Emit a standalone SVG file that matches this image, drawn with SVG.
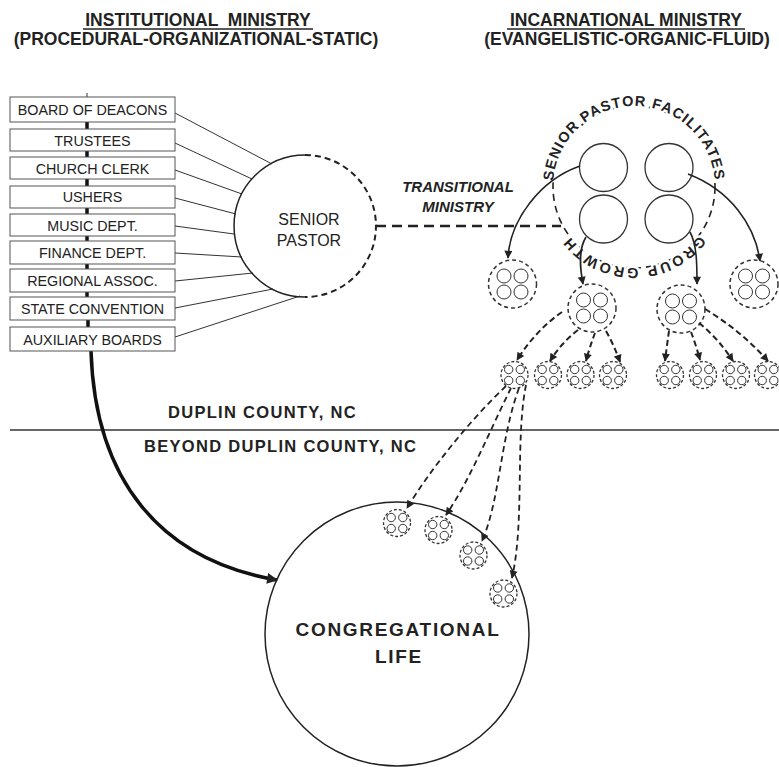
<svg xmlns="http://www.w3.org/2000/svg" width="779" height="767" viewBox="0 0 779 767">
<style>
.t{font-family:"Liberation Sans",Arial,sans-serif;fill:#222}
.hdr{font-size:17.5px;font-weight:bold;text-anchor:middle}
.box rect{fill:#fff;stroke:#555;stroke-width:1}
.box text{font-size:14.3px;text-anchor:middle}
.spoke{stroke:#333;stroke-width:1;fill:none}
.solid{stroke:#222;stroke-width:1.5;fill:none}
.ring{stroke:#222;stroke-width:1.6;fill:none;stroke-dasharray:7 5}
.trans{stroke:#222;stroke-width:2.5;fill:none;stroke-dasharray:10 6}
.darr{stroke:#222;stroke-width:2;fill:none;stroke-dasharray:6 3.5}
.darr2{stroke:#222;stroke-width:1.8;fill:none;stroke-dasharray:6 4}
.sarr{stroke:#222;stroke-width:1.6;fill:none}
.inner{fill:#fff;stroke:#333;stroke-width:1.3}
.mring{fill:#fff;stroke:#333;stroke-width:1.5;stroke-dasharray:4 3}
.sring{fill:#fff;stroke:#333;stroke-width:1.3;stroke-dasharray:3 2}
.sin{fill:none;stroke:#333;stroke-width:1}
.halo{paint-order:stroke;stroke:#fff;stroke-width:5;stroke-linejoin:round}
</style>
<defs>
<marker id="ah" viewBox="0 0 10 10" refX="9" refY="5" markerWidth="10" markerHeight="8" markerUnits="userSpaceOnUse" orient="auto"><path d="M0,0 L10,5 L0,10 z" fill="#222"/></marker>
<marker id="ahL" viewBox="0 0 10 10" refX="9" refY="5" markerWidth="18" markerHeight="11" markerUnits="userSpaceOnUse" orient="auto"><path d="M0,0 L10,5 L0,10 z" fill="#222"/></marker>
<g id="cm"><circle r="24" class="mring"/><circle cx="-8.5" cy="-8" r="7" class="sin"/><circle cx="8.5" cy="-8" r="7" class="sin"/><circle cx="-8.5" cy="8" r="7" class="sin"/><circle cx="8.5" cy="8" r="7" class="sin"/></g>
<g id="cs"><circle r="13.5" class="sring"/><circle cx="-5.8" cy="-5.5" r="4.2" class="sin"/><circle cx="5.8" cy="-5.5" r="4.2" class="sin"/><circle cx="-5.8" cy="5.5" r="4.2" class="sin"/><circle cx="5.8" cy="5.5" r="4.2" class="sin"/></g>
<path id="ringPath" d="M 553 187 A 81 81 0 1 1 715 187 A 81 81 0 1 1 553 187"/>
</defs>
<rect width="779" height="767" fill="#fff"/>

<g id="headers">
<text class="t hdr" x="198" y="26" xml:space="preserve">INSTITUTIONAL  MINISTRY</text>
<line x1="83" y1="29" x2="313" y2="29" stroke="#222" stroke-width="1.5"/>
<text class="t hdr" x="196" y="45">(PROCEDURAL-ORGANIZATIONAL-STATIC)</text>
<text class="t hdr" x="626" y="26">INCARNATIONAL MINISTRY</text>
<line x1="507" y1="29" x2="745" y2="29" stroke="#222" stroke-width="1.5"/>
<text class="t hdr" x="627" y="45">(EVANGELISTIC-ORGANIC-FLUID)</text>
</g>

<g id="regions">
<line x1="10" y1="430" x2="779" y2="430" stroke="#333" stroke-width="1.5"/>
<text class="t" x="168" y="418" font-size="16.5" font-weight="bold" letter-spacing="1.3">DUPLIN COUNTY, NC</text>
<text class="t" x="144" y="452" font-size="16.5" font-weight="bold" letter-spacing="1.3">BEYOND DUPLIN COUNTY, NC</text>
</g>

<g id="connectors">
<g id="spine">
<line x1="87" y1="93" x2="87" y2="97" stroke="#333" stroke-width="1"/>
<line x1="87" y1="122" x2="87" y2="129" stroke="#111" stroke-width="3.5"/>
<line x1="87" y1="151" x2="87" y2="157" stroke="#111" stroke-width="3.5"/>
<line x1="87" y1="179" x2="87" y2="186" stroke="#111" stroke-width="3.5"/>
<line x1="87" y1="208" x2="87" y2="214" stroke="#111" stroke-width="3.5"/>
<line x1="87" y1="236" x2="87" y2="241" stroke="#111" stroke-width="3.5"/>
<line x1="87" y1="264" x2="87" y2="269" stroke="#111" stroke-width="3.5"/>
<line x1="87" y1="292" x2="87" y2="297" stroke="#111" stroke-width="3.5"/>
<line x1="88" y1="320" x2="88" y2="327" stroke="#111" stroke-width="3.5"/>
</g>
<path d="M 91 351 C 95 480, 160 560, 277 580" stroke="#111" stroke-width="3.5" fill="none" marker-end="url(#ahL)"/>
<g id="spokes">
<line class="spoke" x1="175" y1="113" x2="272" y2="164"/>
<line class="spoke" x1="175" y1="143" x2="252" y2="179"/>
<line class="spoke" x1="175" y1="170" x2="242" y2="194"/>
<line class="spoke" x1="175" y1="198" x2="236" y2="214"/>
<line class="spoke" x1="175" y1="226" x2="234" y2="234"/>
<line class="spoke" x1="175" y1="253" x2="242" y2="257"/>
<line class="spoke" x1="175" y1="281" x2="253" y2="273"/>
<line class="spoke" x1="175" y1="308" x2="273" y2="289"/>
<line class="spoke" x1="175" y1="337" x2="300" y2="296"/>
</g>
<line class="trans" x1="376" y1="226" x2="561" y2="226"/>
</g>

<g id="boxes">
<g class="box" id="board-of-deacons"><rect x="10" y="97" width="165" height="25"/><text class="t" x="92.5" y="115">BOARD OF DEACONS</text></g>
<g class="box" id="trustees"><rect x="10" y="129" width="165" height="22"/><text class="t" x="92.5" y="145.5">TRUSTEES</text></g>
<g class="box" id="church-clerk"><rect x="10" y="157" width="165" height="22"/><text class="t" x="92.5" y="173.5">CHURCH CLERK</text></g>
<g class="box" id="ushers"><rect x="10" y="186" width="165" height="22"/><text class="t" x="92.5" y="202">USHERS</text></g>
<g class="box" id="music-dept"><rect x="10" y="214" width="165" height="22"/><text class="t" x="92.5" y="230.5">MUSIC DEPT.</text></g>
<g class="box" id="finance-dept"><rect x="10" y="241" width="165" height="23"/><text class="t" x="92.5" y="258">FINANCE DEPT.</text></g>
<g class="box" id="regional-assoc"><rect x="10" y="269" width="165" height="23"/><text class="t" x="92.5" y="286">REGIONAL ASSOC.</text></g>
<g class="box" id="state-convention"><rect x="10" y="297" width="165" height="23"/><text class="t" x="92.5" y="314">STATE CONVENTION</text></g>
<g class="box" id="auxiliary-boards"><rect x="10" y="327" width="165" height="24"/><text class="t" x="92.5" y="344.5">AUXILIARY BOARDS</text></g>
</g>

<g id="senior-pastor">
<path class="solid" d="M 305 155 A 71 71 0 0 0 305 297"/>
<path d="M 305 155 A 71 71 0 0 1 305 297" stroke="#222" stroke-width="2" fill="none" stroke-dasharray="6 4"/>
<text class="t" x="309" y="225" font-size="16" text-anchor="middle">SENIOR</text>
<text class="t" x="309" y="246" font-size="16" text-anchor="middle">PASTOR</text>
</g>

<g id="transitional-ministry-label">
<text class="t" x="458" y="192" font-size="15" font-weight="bold" font-style="italic" text-anchor="middle">TRANSITIONAL</text>
<text class="t" x="458" y="212" font-size="15" font-weight="bold" font-style="italic" text-anchor="middle">MINISTRY</text>
</g>

<g id="senior-pastor-facilitates">
<circle class="ring" cx="634" cy="187" r="81"/>
<text class="t halo" font-size="14.5" font-weight="bold" letter-spacing="1.1"><textPath href="#ringPath" startOffset="25%" text-anchor="middle">SENIOR PASTOR FACILITATES</textPath></text>
<text class="t halo" font-size="14.5" font-weight="bold" letter-spacing="2.3"><textPath href="#ringPath" startOffset="75%" text-anchor="middle">GROUP GROWTH</textPath></text>
<circle class="inner" cx="603.5" cy="167.5" r="24"/>
<circle class="inner" cx="669" cy="167.5" r="24"/>
<circle class="inner" cx="603.5" cy="219" r="24"/>
<circle class="inner" cx="669" cy="219" r="24"/>
</g>

<g id="groups-level1">
<use href="#cm" x="512.5" y="284"/>
<use href="#cm" x="592" y="308"/>
<use href="#cm" x="681" y="309"/>
<use href="#cm" x="754" y="284"/>
</g>

<g id="groups-level2">
<use href="#cs" x="514.5" y="375"/>
<use href="#cs" x="548" y="375"/>
<use href="#cs" x="580.5" y="375"/>
<use href="#cs" x="613" y="375"/>
<use href="#cs" x="670" y="375"/>
<use href="#cs" x="703" y="375"/>
<use href="#cs" x="736" y="375"/>
<use href="#cs" x="768" y="375"/>
</g>

<g id="congregational-life">
<circle cx="397" cy="634" r="132" fill="none" stroke="#222" stroke-width="1.5"/>
<text class="t" x="398" y="636" font-size="19" font-weight="bold" letter-spacing="1.7" text-anchor="middle">CONGREGATIONAL</text>
<text class="t" x="399" y="663" font-size="19" font-weight="bold" letter-spacing="1.7" text-anchor="middle">LIFE</text>
<use href="#cs" x="397" y="523"/>
<use href="#cs" x="438.5" y="530"/>
<use href="#cs" x="473.5" y="555.5"/>
<use href="#cs" x="503.5" y="593.5"/>
</g>

<g id="group-connectors">
<path class="sarr" d="M 580 166 C 540 180, 510 220, 508 258" marker-end="url(#ah)"/>
<path class="sarr" d="M 688 174 C 730 190, 755 225, 760 261" marker-end="url(#ah)"/>
<path class="sarr" d="M 586 237 C 578 250, 580 268, 583 284" marker-end="url(#ah)"/>
<path class="sarr" d="M 690 232 C 697 245, 697 265, 697 284" marker-end="url(#ah)"/>
<path class="darr" d="M 562 312 Q 536 330 517 360" marker-end="url(#ah)"/>
<path class="darr" d="M 578 330 Q 562 342 550 361" marker-end="url(#ah)"/>
<path class="darr" d="M 595 333 Q 590 346 586 361" marker-end="url(#ah)"/>
<path class="darr" d="M 606 331 Q 614 345 620 362" marker-end="url(#ah)"/>
<path class="darr" d="M 669 331 Q 667 345 665 361" marker-end="url(#ah)"/>
<path class="darr" d="M 691 332 Q 696 345 700 360" marker-end="url(#ah)"/>
<path class="darr" d="M 699 323 Q 718 338 733 361" marker-end="url(#ah)"/>
<path class="darr" d="M 705 309 Q 740 330 768 361" marker-end="url(#ah)"/>
<path class="darr2" d="M 506 386 C 470 420, 430 470, 407 508" marker-end="url(#ah)"/>
<path class="darr2" d="M 511 388 C 490 430, 470 480, 446 515" marker-end="url(#ah)"/>
<path class="darr2" d="M 519 388 C 500 440, 500 500, 482 541" marker-end="url(#ah)"/>
<path class="darr2" d="M 526 385 C 515 440, 525 520, 512 578" marker-end="url(#ah)"/>
</g>
</svg>
